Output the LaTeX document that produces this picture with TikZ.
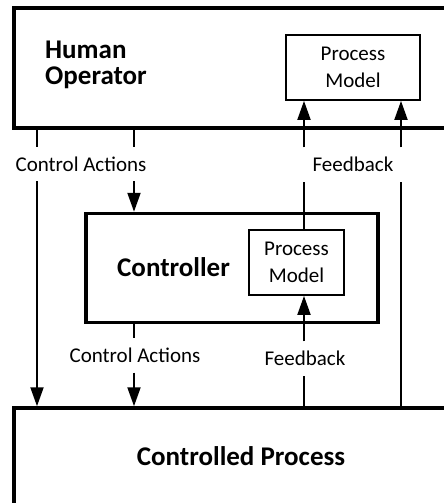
\documentclass[tikz,border=0pt]{standalone}
\usepackage{fontspec}
\setmainfont{Carlito}
\usetikzlibrary{arrows.meta}
\begin{document}
\begin{tikzpicture}[x=1pt,y=-1pt,
  bigbox/.style={draw,line width=3.5pt,inner sep=0pt},
  pmbox/.style={draw,line width=1.8pt,inner sep=0pt,align=center,font=\fontsize{21}{27}\selectfont},
  lbl/.style={font=\fontsize{21}{25}\selectfont,text height=14pt,text depth=0pt,inner ysep=10pt,inner xsep=2pt,anchor=base},
  ttl/.style={font=\fontsize{27}{26}\selectfont\bfseries,inner sep=0pt},
  wire/.style={line width=2pt},
  arr/.style={wire,-{Triangle[length=19pt,width=13pt]}}]
\clip (0,0) rectangle (444,503);
% boxes
\node[bigbox,minimum width=460pt,minimum height=120pt] (HO) at (244,68) {};
\node[bigbox,minimum width=460pt,minimum height=110pt] (CP) at (244,463) {};
\node[bigbox,minimum width=292pt,minimum height=109pt] (CT) at (232,268) {};
\node[pmbox,minimum width=134pt,minimum height=65pt] (PM1) at (353,67.5) {Process\\Model};
\node[pmbox,minimum width=95pt,minimum height=65pt] (PM2) at (296.5,262.5) {Process\\Model};
% titles
\node[ttl,anchor=base west] (HOt) at (45,59) {\parbox[t]{160pt}{\fontsize{27}{26}\selectfont\bfseries Human\\Operator}};
\node[ttl,anchor=base west] (CTt) at (117,276) {Controller};
\node[ttl,anchor=base] (CPt) at (241,465) {Controlled Process};
% labels
\node[lbl] (ca1) at (81,171) {Control Actions};
\node[lbl] (fb1) at (353,171.5) {Feedback};
\node[lbl] (ca2) at (135,362.5) {Control Actions};
\node[lbl] (fb2) at (305,365.5) {Feedback};
% x positions
\coordinate (xa) at (37,0);
\coordinate (xb) at (134,0);
\coordinate (xc) at (304,0);
\coordinate (xd) at (401,0);
% connectors
\draw[wire] (HO.south -| xa) -- (ca1.north -| xa);
\draw[arr] (ca1.south -| xa) -- (CP.north -| xa);
\draw[wire] (HO.south -| xb) -- (ca1.north -| xb);
\draw[arr] (ca1.south -| xb) -- (CT.north -| xb);
\draw[wire] (CT.south -| xb) -- (ca2.north -| xb);
\draw[arr] (ca2.south -| xb) -- (CP.north -| xb);
\draw[wire] (PM2.north -| xc) -- (fb1.south -| xc);
\draw[arr] (fb1.north -| xc) -- (PM1.south -| xc);
\draw[wire] (CP.north -| xc) -- (fb2.south -| xc);
\draw[arr] (fb2.north -| xc) -- (PM2.south -| xc);
\draw[wire] (CP.north -| xd) -- (fb1.south -| xd);
\draw[arr] (fb1.north -| xd) -- (PM1.south -| xd);
\end{tikzpicture}
\end{document}
